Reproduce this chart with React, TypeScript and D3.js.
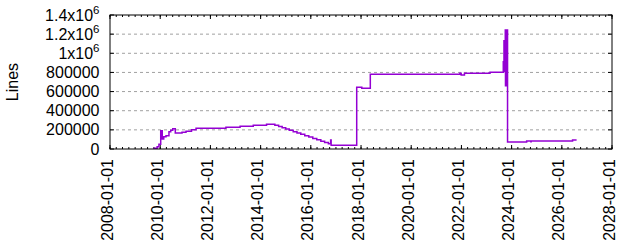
import React from "react";
import * as d3 from "d3";

const dates: string[] = [
  "2009-09-22", "2009-11-17", "2009-12-13", "2010-01-08", "2010-01-30", "2010-02-21",
  "2010-03-26", "2010-05-08", "2010-06-03", "2010-07-02", "2010-08-08", "2010-11-14",
  "2011-01-11", "2011-04-01", "2011-06-06", "2012-08-14", "2013-03-08", "2013-09-16",
  "2014-03-28", "2014-07-27", "2014-09-20", "2014-11-10", "2015-01-01", "2015-02-21",
  "2015-04-20", "2015-06-14", "2015-08-08", "2015-10-05", "2015-12-03", "2016-01-30",
  "2016-03-28", "2016-05-26", "2016-07-20", "2016-09-13", "2016-10-16", "2016-10-23",
  "2017-10-30", "2018-01-12", "2018-05-16", "2021-12-10", "2021-12-28", "2022-02-14",
  "2023-02-21", "2023-09-02", "2023-09-12", "2023-09-15", "2023-09-18", "2023-09-21",
  "2023-09-24", "2023-09-27", "2023-10-01", "2023-10-04", "2023-10-07", "2023-10-10",
  "2023-10-13", "2023-10-16", "2023-10-19", "2023-10-22", "2023-10-25", "2023-10-28",
  "2023-10-31", "2023-11-03", "2024-08-07", "2024-10-08", "2024-10-11", "2026-06-06",
  "2026-08-04",
];

const lines: number[] = [
  7000, 24000, 49000, 190000, 105000, 128000,
  139000, 181000, 195000, 212000, 167000, 174000,
  185000, 202000, 216000, 227000, 237000, 248000,
  258000, 248000, 236000, 222000, 208000, 195000,
  181000, 167000, 153000, 139000, 125000, 110000,
  96000, 82000, 68000, 55000, 94000, 38000,
  645000, 634000, 780000, 791000, 774000, 791000,
  801000, 912000, 1130000, 810000, 1130000, 810000,
  1130000, 820000, 1243000, 660000, 1243000, 660000,
  1243000, 660000, 1243000, 660000, 1243000, 660000,
  1243000, 73000, 84000, 76000, 84000, 94000,
  94000,
];

const yTicks: number[] = [0, 200000, 400000, 600000, 800000, 1000000, 1200000, 1400000];
const xDomain: string[] = ["2008-01-01", "2028-01-01"];
const yLabel = "Lines";

const W = 640, H = 240;
const L = 110, R = 612, T = 15, B = 149;
const FONT = "'Liberation Sans', Arial, sans-serif";
const FS = 16;

function yTickLabel(v: number) {
  if (v >= 1000000) {
    const m = v / 1000000;
    return { base: `${m}x10`, sup: "6" };
  }
  return { base: `${v}`, sup: "" };
}

export default function App() {
  const parse = d3.timeParse("%Y-%m-%d");
  const fmt = d3.timeFormat("%Y-%m-%d");
  const x = d3.scaleTime().domain(xDomain.map((d) => parse(d)!)).range([L, R]);
  const y = d3.scaleLinear().domain([0, 1400000]).range([B, T]);

  const data = dates.map((d, i) => ({ date: parse(d)!, v: lines[i] }));
  const path = d3
    .line<{ date: Date; v: number }>()
    .x((d) => x(d.date))
    .y((d) => y(d.v))
    .curve(d3.curveStepAfter)(data)!;

  const majors = d3.timeYear.every(2)!.range(x.domain()[0], d3.timeDay.offset(x.domain()[1], 1));
  const minors = d3.timeMonth.every(3)!.range(x.domain()[0], d3.timeDay.offset(x.domain()[1], 1));

  return (
    <div style={{ position: "absolute", left: 0, top: 0 }}>
      <svg width={W} height={H} style={{ display: "block", background: "#fff" }}>
        {yTicks.slice(1, -1).map((t) => (
          <line key={"g" + t} x1={L} x2={R} y1={y(t)} y2={y(t)} stroke="#a0a0a0" strokeWidth={1} strokeDasharray="3,3" />
        ))}
        {minors.map((d, i) => (
          <g key={"mn" + i}>
            <line x1={x(d)} x2={x(d)} y1={B} y2={B - 2} stroke="#000" />
            <line x1={x(d)} x2={x(d)} y1={T} y2={T + 2} stroke="#000" />
          </g>
        ))}
        {majors.map((d, i) => (
          <g key={"mj" + i}>
            <line x1={x(d)} x2={x(d)} y1={B} y2={B - 4} stroke="#000" />
            <line x1={x(d)} x2={x(d)} y1={T} y2={T + 4} stroke="#000" />
            <text
              transform={`translate(${x(d) - 3},${B + 10}) rotate(-90)`}
              textAnchor="end"
              dominantBaseline="central"
              fontFamily={FONT}
              fontSize={FS}
              fill="#000"
            >
              {fmt(d)}
            </text>
          </g>
        ))}
        {yTicks.map((t) => {
          const lab = yTickLabel(t);
          return (
            <g key={"y" + t}>
              <line x1={L} x2={L + 4} y1={y(t)} y2={y(t)} stroke="#000" />
              <line x1={R} x2={R - 4} y1={y(t)} y2={y(t)} stroke="#000" />
              <text x={L - 10.5} y={y(t) + 5.5} textAnchor="end" fontFamily={FONT} fontSize={FS} fill="#000">
                {lab.base}
                {lab.sup && (
                  <tspan fontSize={11.5} dy={-6.5}>
                    {lab.sup}
                  </tspan>
                )}
              </text>
            </g>
          );
        })}
        <path d={path} fill="none" stroke="#9400d3" strokeWidth={1.5} />
        <rect x={L} y={T} width={R - L} height={B - T} fill="none" stroke="#000" strokeWidth={1} />
        <text transform={`translate(18,82) rotate(-90)`} textAnchor="middle" fontFamily={FONT} fontSize={FS} fill="#000">
          {yLabel}
        </text>
      </svg>
    </div>
  );
}
